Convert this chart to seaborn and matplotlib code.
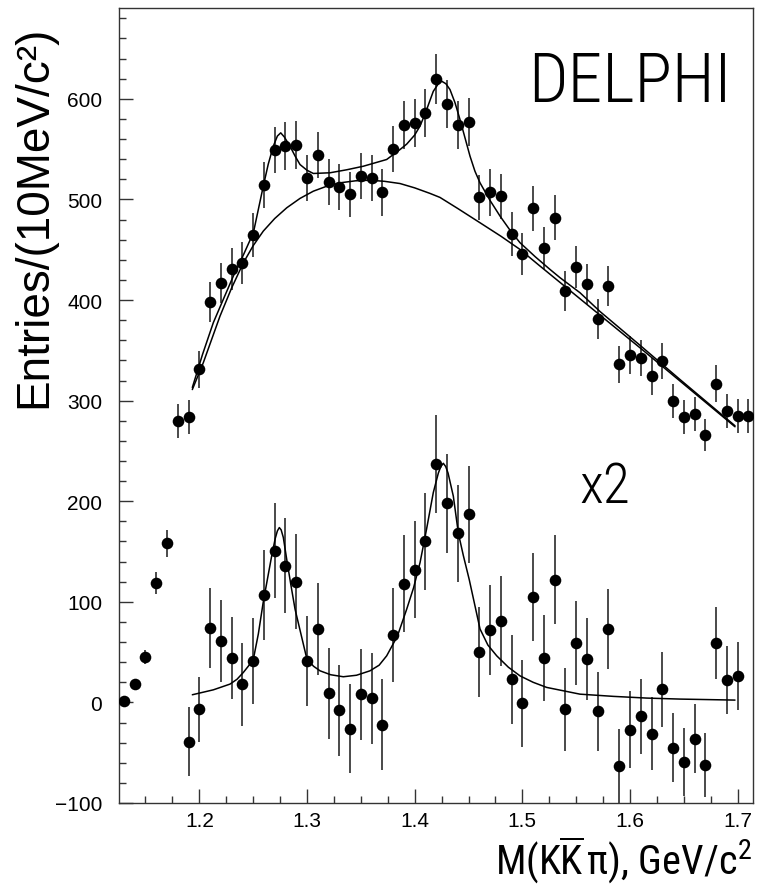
import os
import numpy as np
import pandas as pd
import matplotlib
matplotlib.use("Agg")
import matplotlib.pyplot as plt
import seaborn as sns
from matplotlib import font_manager as fm
from matplotlib.ticker import MultipleLocator, FixedLocator

# ---------------- data ----------------
mass_top = [1.13, 1.14, 1.15, 1.16, 1.17, 1.18, 1.19, 1.20, 1.21, 1.22,
            1.23, 1.24, 1.25, 1.26, 1.27, 1.28, 1.29, 1.30, 1.31, 1.32,
            1.33, 1.34, 1.35, 1.36, 1.37, 1.38, 1.39, 1.40, 1.41, 1.42,
            1.43, 1.44, 1.45, 1.46, 1.47, 1.48, 1.49, 1.50, 1.51, 1.52,
            1.53, 1.54, 1.55, 1.56, 1.57, 1.58, 1.59, 1.60, 1.61, 1.62,
            1.63, 1.64, 1.65, 1.66, 1.67, 1.68, 1.69, 1.70, 1.71]
entries_top = [1, 18, 45, 119, 158, 280, 284, 331, 398, 417,
               431, 437, 465, 514, 549, 553, 554, 521, 544, 517,
               512, 505, 523, 521, 507, 550, 574, 576, 586, 620,
               595, 574, 577, 502, 507, 503, 466, 446, 491, 452,
               482, 409, 433, 416, 381, 414, 336, 345, 342, 324,
               339, 300, 284, 287, 266, 317, 290, 285, 285]
err_top = [1, 4, 7, 11, 13, 17, 17, 18, 20, 20,
           21, 21, 22, 23, 23, 24, 24, 23, 23, 23,
           23, 22, 23, 23, 23, 23, 24, 24, 24, 25,
           24, 24, 24, 22, 23, 22, 22, 21, 22, 21,
           22, 20, 21, 20, 20, 20, 18, 19, 18, 18,
           18, 17, 17, 17, 16, 18, 17, 17, 17]

mass_sub = [1.19, 1.20, 1.21, 1.22, 1.23, 1.24, 1.25, 1.26, 1.27, 1.28,
            1.29, 1.30, 1.31, 1.32, 1.33, 1.34, 1.35, 1.36, 1.37, 1.38,
            1.39, 1.40, 1.41, 1.42, 1.43, 1.44, 1.45, 1.46, 1.47, 1.48,
            1.49, 1.50, 1.51, 1.52, 1.53, 1.54, 1.55, 1.56, 1.57, 1.58,
            1.59, 1.60, 1.61, 1.62, 1.63, 1.64, 1.65, 1.66, 1.67, 1.68,
            1.69, 1.70]
entries_sub = [-39, -7, 74, 61, 44, 18, 41, 107, 151, 136,
               120, 41, 73, 9, -8, -26, 8, 4, -22, 67,
               118, 132, 160, 237, 198, 168, 187, 50, 72, 81,
               23, -1, 105, 44, 122, -7, 59, 43, -9, 73,
               -63, -27, -14, -31, 13, -45, -59, -36, -62, 59,
               22, 26]
err_sub = [34, 32, 40, 41, 41, 41, 43, 45, 47, 47,
           47, 45, 46, 45, 45, 44, 45, 45, 45, 47,
           48, 48, 48, 49, 49, 48, 48, 45, 45, 45,
           44, 43, 44, 43, 44, 41, 42, 41, 39, 40,
           37, 38, 37, 36, 37, 34, 34, 34, 32, 36,
           34, 34]

# fit curves
fit_mass = [1.1935, 1.203, 1.213, 1.222, 1.2316, 1.241, 1.2502, 1.2548,
            1.2594, 1.264, 1.2687, 1.2725, 1.2756, 1.279, 1.2842, 1.289,
            1.2935, 1.30, 1.3059, 1.3214, 1.337, 1.3523, 1.374, 1.3864,
            1.3926, 1.40, 1.405, 1.41, 1.4173, 1.422, 1.4251, 1.429,
            1.4328, 1.4375, 1.4421, 1.4468, 1.4514, 1.456, 1.4607, 1.47,
            1.4793, 1.4885, 1.4978, 1.512, 1.5257, 1.535, 1.5535, 1.5721,
            1.6093, 1.6464, 1.6975]
fit_total = [313, 346, 377.5, 400, 423.8, 445, 466.9, 490,
             513.2, 535, 552.9, 563, 566.2, 562, 552.9, 543,
             534.7, 529, 525.8, 526.5, 529.5, 533, 539.7, 549.6,
             555, 564, 573, 586, 607.5, 615, 617.5, 615,
             609.2, 596, 579.4, 561, 543, 528, 516.5, 499,
             483.4, 469.5, 457, 443, 430.4, 422.2, 407.3, 388.6,
             355, 321, 275]

bg_mass = [1.1935, 1.2037, 1.2192, 1.23, 1.2409, 1.25, 1.2594, 1.27,
           1.2812, 1.2935, 1.3059, 1.318, 1.3307, 1.345, 1.3585, 1.372,
           1.3864, 1.40, 1.4142, 1.4235, 1.44, 1.4607, 1.48, 1.4978,
           1.515, 1.535, 1.5721, 1.6093, 1.6464, 1.6975]
bg_values = [311, 337.7, 384, 412, 437, 454, 468.5, 481,
             491.7, 501, 508.2, 513, 516.5, 518.5, 519.1, 518,
             515.8, 511.5, 506, 502, 491, 476.8, 463.5, 450.3,
             435, 417.5, 385, 352.5, 319.5, 274]

sig_mass = [1.1935, 1.213, 1.2285, 1.235, 1.2409, 1.2455, 1.2502, 1.2548,
            1.2594, 1.2635, 1.2672, 1.2705, 1.2725, 1.2743, 1.276, 1.278,
            1.2812, 1.285, 1.2889, 1.2997, 1.306, 1.3121, 1.322, 1.3337,
            1.346, 1.3585, 1.367, 1.374, 1.384, 1.3926, 1.399, 1.405,
            1.411, 1.4173, 1.422, 1.4243, 1.4266, 1.4288, 1.431, 1.4359,
            1.4406, 1.4452, 1.4507, 1.4607, 1.468, 1.4762, 1.487, 1.4978,
            1.51, 1.5226, 1.5535, 1.5845, 1.6155, 1.6464, 1.6975]
sig_values = [7.6, 12.5, 18.2, 23, 29.8, 36, 43, 68,
              100, 124, 145.6, 163, 170.5, 173.8, 171.5, 164,
              142, 117, 92.7, 44, 36, 31.4, 27.5, 25.5,
              27, 31.4, 37, 46.3, 66, 92.7, 114, 139,
              172, 208.6, 228, 234.5, 237.7, 234.5, 228, 205,
              168, 146, 122, 73, 57, 46.3, 35, 26.4,
              20, 14.9, 8.2, 6, 4.3, 3.3, 2.3]

x_ticks = [1.2, 1.3, 1.4, 1.5, 1.6, 1.7]
x_tick_labels = ["1.2", "1.3", "1.4", "1.5", "1.6", "1.7"]
y_ticks = [-100, 0, 100, 200, 300, 400, 500, 600]
y_tick_labels = ["\u2212100", "0", "100", "200", "300", "400", "500", "600"]

y_title = "Entries/(10MeV/c\u00b2)"
x_title = r"M(K$\overline{\mathrm{K}}\,\mathrm{\pi}$), GeV/c$^{\mathrm{2}}$"
experiment = "DELPHI"
scale_note = "x2"

# ---------------- fonts ----------------
sns.set_theme(style="white")


def find_font(patterns):
    files = [f.fname for f in fm.fontManager.ttflist]
    for pat in patterns:
        for fn in files:
            b = os.path.basename(fn).lower()
            if "italic" in b or "oblique" in b:
                continue
            if b.startswith(pat.lower()):
                return fn
    return None


thin_font = find_font(["RobotoCondensed-Light", "OpenSans_Condensed-Light",
                       "OpenSansCondensed-Light", "OpenSans-CondLight",
                       "RobotoCondensed-Regular", "LiberationSansNarrow-Regular",
                       "DejaVuSansCondensed.", "Roboto-Light", "Lato-Light"])
narrow_font = find_font(["LiberationSansNarrow-Regular", "RobotoCondensed-Regular",
                         "DejaVuSansCondensed.", "LiberationSans-Regular"])
plain_font = find_font(["LiberationSans-Regular", "DejaVuSans."])


def fprop(path, size):
    if path:
        return fm.FontProperties(fname=path, size=size)
    return fm.FontProperties(family="DejaVu Sans", size=size)


plt.rcParams["font.family"] = ["Liberation Sans", "DejaVu Sans"]
if narrow_font:
    nname = fm.FontProperties(fname=narrow_font).get_name()
    plt.rcParams["mathtext.fontset"] = "custom"
    plt.rcParams["mathtext.rm"] = nname
    plt.rcParams["mathtext.it"] = nname
    plt.rcParams["mathtext.bf"] = nname
    plt.rcParams["mathtext.sf"] = nname

# ---------------- figure ----------------
W, H = 757, 887
fig = plt.figure(figsize=(W / 100, H / 100), dpi=100)
fig.patch.set_facecolor("white")
ax_left, ax_right, ax_top, ax_bot = 119, 753.3, 9.3, 804
ax = fig.add_axes([ax_left / W, 1 - ax_bot / H, (ax_right - ax_left) / W,
                   (ax_bot - ax_top) / H])
ax.set_facecolor("white")

top_df = pd.DataFrame({"mass": mass_top, "entries": entries_top, "err": err_top})
sub_df = pd.DataFrame({"mass": mass_sub, "entries": entries_sub, "err": err_sub})
fit_df = pd.DataFrame({"mass": fit_mass, "value": fit_total})
bg_df = pd.DataFrame({"mass": bg_mass, "value": bg_values})
sig_df = pd.DataFrame({"mass": sig_mass, "value": sig_values})

for df in (top_df, sub_df):
    ax.errorbar(df["mass"], df["entries"], yerr=df["err"], fmt="none",
                ecolor="#4a4a4a", elinewidth=1.4, capsize=0, zorder=2)
    sns.scatterplot(data=df, x="mass", y="entries", ax=ax, s=70, color="black",
                    edgecolor="black", linewidth=0, zorder=3, legend=False)

for df in (fit_df, bg_df, sig_df):
    sns.lineplot(data=df, x="mass", y="value", ax=ax, sort=False, estimator=None,
                 color="black", linewidth=1.1, zorder=4)

ax.set_xlim(1.1254, 1.7145)
ax.set_ylim(-100, 690)
ax.xaxis.set_major_locator(FixedLocator(x_ticks))
ax.set_xticklabels(x_tick_labels)
ax.xaxis.set_minor_locator(MultipleLocator(0.025))
ax.yaxis.set_major_locator(FixedLocator(y_ticks))
ax.set_yticklabels(y_tick_labels)
ax.yaxis.set_minor_locator(MultipleLocator(20))
ax.set_xlabel("")
ax.set_ylabel("")

tick_fp = fprop(plain_font, 15)
for lab in ax.get_xticklabels() + ax.get_yticklabels():
    lab.set_fontproperties(tick_fp)

ax.tick_params(axis="both", which="major", direction="in", length=10, width=1,
               color="#333333", labelcolor="black")
ax.tick_params(axis="both", which="minor", direction="in", length=5, width=1,
               color="#333333")
ax.tick_params(axis="x", which="major", pad=6)
ax.tick_params(axis="y", which="major", pad=12)
ax.tick_params(left=True, bottom=True, top=False, right=False)
ax.tick_params(which="minor", left=True, bottom=True, top=False, right=False)
for sp in ax.spines.values():
    sp.set_visible(True)
    sp.set_color("#333333")
    sp.set_linewidth(1.0)

# ---------------- texts ----------------
fig.text(34.5 / W, 1 - 216.5 / H, y_title, rotation=90, ha="center", va="center",
         fontproperties=fprop(plain_font, 33), color="black")
fig.text(752 / W, 1 - 875 / H, x_title, ha="right", va="baseline",
         fontproperties=fprop(narrow_font, 29), color="black")
fig.text(528 / W, 1 - 102 / H, experiment, ha="left", va="baseline",
         fontproperties=fprop(thin_font, 50), color="black")
fig.text(579 / W, 1 - 503 / H, scale_note, ha="left", va="baseline",
         fontproperties=fprop(thin_font, 40), color="black")

fig.savefig("out.png", dpi=100, facecolor="white")
